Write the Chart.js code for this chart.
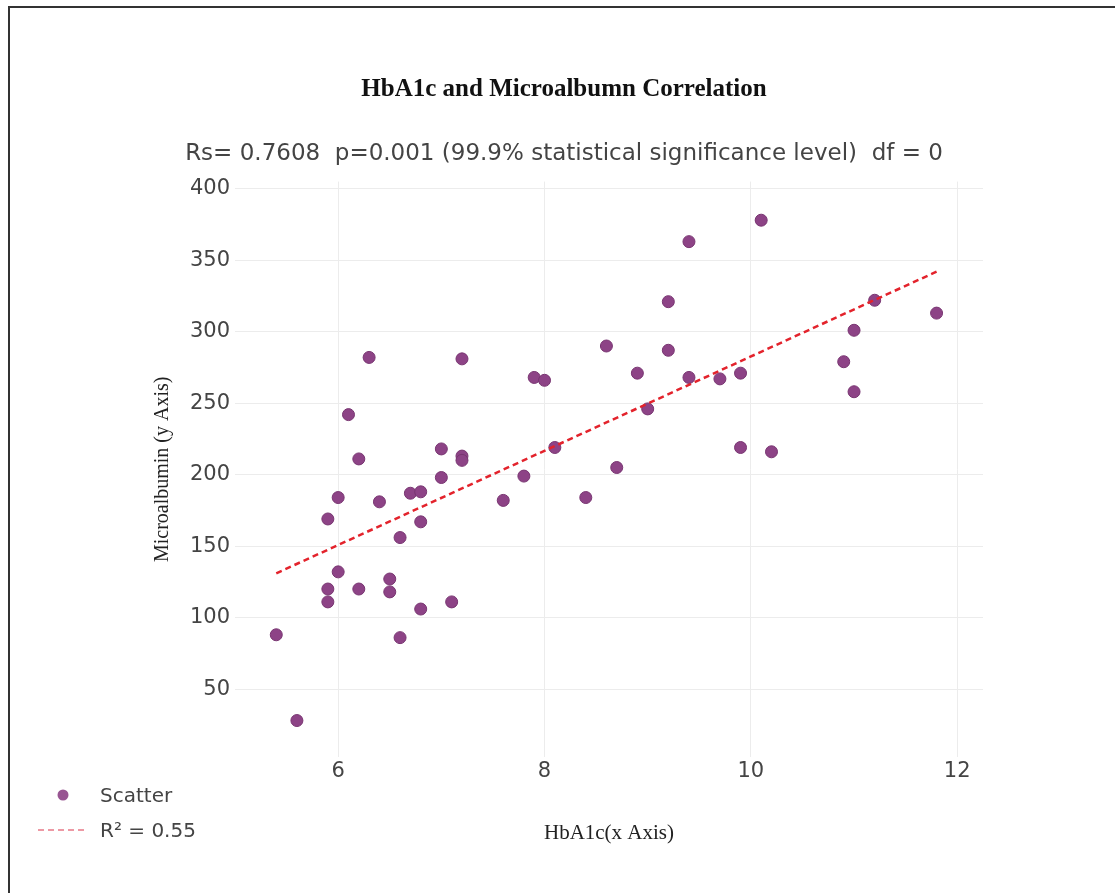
<!DOCTYPE html>
<html>
<head>
<meta charset="utf-8">
<script src="https://cdn.jsdelivr.net/npm/chart.js@4.4.0/dist/chart.umd.min.js"></script>
<style>
  html, body { margin: 0; padding: 0; background: #fff; }
  #wrap { position: relative; width: 1115px; height: 893px; overflow: hidden; }
  #frame { position: absolute; left: 8px; top: 6px; right: -4px; bottom: -4px; border-left: 2px solid #333; border-top: 2px solid #333; }
  #chart { position: absolute; left: 0; top: 0; }
  .legend-item { position: absolute; left: 38px; height: 30px; display: flex; align-items: center;
                 font: 20px 'DejaVu Sans', sans-serif; color: #444; white-space: nowrap; }
  .legend-item svg { width: 50px; height: 14px; margin-right: 12px; }
</style>
</head>
<body>
<div id="wrap">
  <div id="frame"></div>
  <canvas id="chart" width="1115" height="893"></canvas>
  <div id="legend"></div>
</div>
<script>
// datos
const hba1c = [5.4, 5.6, 5.9, 5.9, 5.9, 6.0, 6.0, 6.1, 6.2, 6.2,
               6.3, 6.4, 6.5, 6.5, 6.6, 6.6, 6.7, 6.8, 6.8, 6.8,
               7.0, 7.0, 7.1, 7.2, 7.2, 7.2, 7.6, 7.8, 7.9, 8.0,
               8.1, 8.4, 8.6, 8.7, 8.9, 9.0, 9.2, 9.2, 9.4, 9.4,
               9.7, 9.9, 9.9, 10.1, 10.2, 10.9, 11.0, 11.0, 11.2, 11.8];
const microalbumin = [88, 28, 169, 120, 111, 184, 132, 242, 211, 120,
                      282, 181, 127, 118, 156, 86, 187, 188, 167, 106,
                      218, 198, 111, 281, 213, 210, 182, 199, 268, 266,
                      219, 184, 290, 205, 271, 246, 321, 287, 363, 268,
                      267, 271, 219, 378, 216, 279, 301, 258, 322, 313];

// linea de tendencia (extremos)
const trendX = [5.4, 11.8];
const trendY = [131, 342];

const xTicks = [6, 8, 10, 12];
const yTicks = [50, 100, 150, 200, 250, 300, 350, 400];
const xRange = [5.0, 12.25];
const yRange = [2.5, 405];

const chartTitle = 'HbA1c and Microalbumn Correlation';
const chartSubtitle = 'Rs= 0.7608  p=0.001 (99.9% statistical significance level)  df = 0';
const xTitle = 'HbA1c(x Axis)';
const yTitle = 'Microalbumin (y Axis)';
const scatterLabel = 'Scatter';
const trendLabel = 'R\u00B2 = 0.55';

const dotColor = '#8d4386';
const trendColor = '#e3232c';
const tickFont = { family: 'DejaVu Sans', size: 21 };

const toPoints = (xs, ys) => xs.map((x, i) => ({ x: x, y: ys[i] }));

const chart = new Chart(document.getElementById('chart'), {
    type: 'scatter',
    data: {
        datasets: [{
            label: scatterLabel,
            data: toPoints(hba1c, microalbumin),
            backgroundColor: dotColor,
            borderColor: '#783571',
            borderWidth: 1,
            pointRadius: 6,
            order: 1
        }, {
            label: trendLabel,
            data: toPoints(trendX, trendY),
            showLine: true,
            borderColor: trendColor,
            borderWidth: 2.5,
            borderDash: [6, 4],
            pointRadius: 0,
            fill: false,
            order: 0
        }]
    },
    options: {
        responsive: false,
        animation: false,
        layout: { padding: { left: 145, right: 132, top: 0, bottom: 46 } },
        plugins: {
            legend: { display: false },
            tooltip: { enabled: false },
            title: {
                display: true,
                text: chartTitle,
                color: '#111',
                font: { family: 'Liberation Serif', size: 25, weight: 'bold' },
                padding: { top: 75, bottom: 20 }
            },
            subtitle: {
                display: true,
                text: chartSubtitle,
                color: '#444',
                font: { family: 'DejaVu Sans', size: 23 },
                padding: { top: 15, bottom: 14 }
            }
        },
        scales: {
            x: {
                type: 'linear',
                min: xRange[0],
                max: xRange[1],
                afterBuildTicks: (scale) => { scale.ticks = xTicks.map(v => ({ value: v })); },
                afterFit: (scale) => { scale.height = 90; },
                grid: { color: '#ececec', lineWidth: 1, drawTicks: false },
                border: { display: false },
                ticks: { color: '#444', font: tickFont, padding: 2, maxRotation: 0 },
                title: { display: true, text: xTitle, color: '#222', font: { family: 'Liberation Serif', size: 21 }, padding: { top: 0, bottom: 1 } }
            },
            y: {
                type: 'linear',
                min: yRange[0],
                max: yRange[1],
                afterBuildTicks: (scale) => { scale.ticks = yTicks.map(v => ({ value: v })); },
                afterFit: (scale) => { scale.width = 90; },
                grid: { color: '#ececec', lineWidth: 1, drawTicks: false },
                border: { display: false },
                ticks: { color: '#444', font: tickFont, padding: 5 },
                title: { display: true, text: yTitle, color: '#222', font: { family: 'Liberation Serif', size: 20 }, padding: { top: 6, bottom: 0 } }
            }
        }
    }
});

// leyenda al estilo plotly, abajo a la izquierda
function renderLegend(chart) {
    const rows = [795, 830];
    document.getElementById('legend').innerHTML = chart.data.datasets.map((ds, i) => {
        const sym = ds.showLine
            ? `<svg viewBox="0 0 50 14"><line x1="0" y1="7" x2="50" y2="7" stroke="rgba(222,70,90,0.55)" stroke-width="2" stroke-dasharray="6,4"/></svg>`
            : `<svg viewBox="0 0 50 14"><circle cx="25" cy="7" r="5.5" fill="${ds.backgroundColor}" opacity="0.9"/></svg>`;
        return `<div class="legend-item" style="top:${rows[i] - 15}px">${sym}<span>${ds.label}</span></div>`;
    }).join('');
}
renderLegend(chart);
</script>
</body>
</html>
